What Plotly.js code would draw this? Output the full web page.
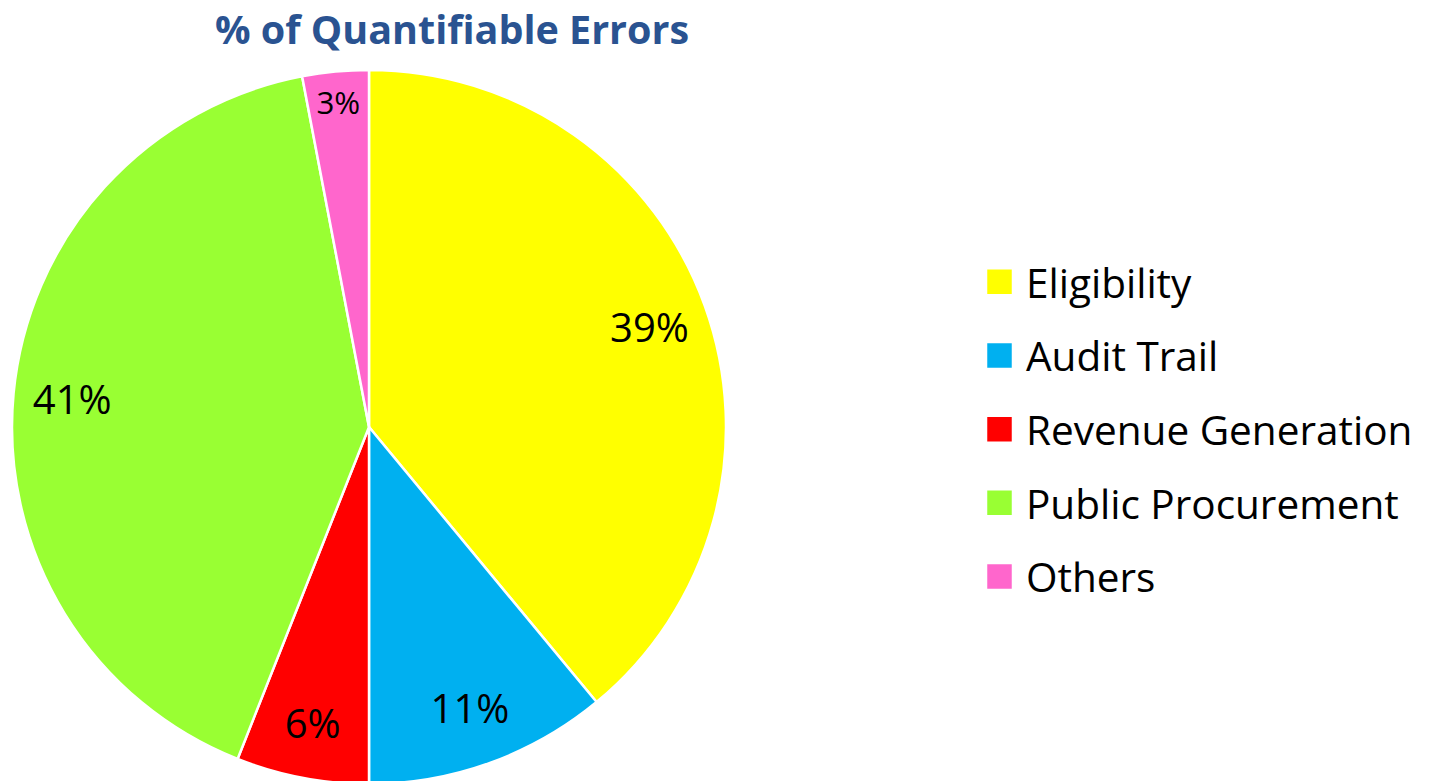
<!DOCTYPE html>
<html>
<head>
<meta charset="utf-8">
<script src="https://cdn.plot.ly/plotly-3.0.1.min.js"></script>
<style>
html,body{margin:0;padding:0;overflow:hidden;background:#fff;}
#chart{width:1435px;height:800px;}
</style>
</head>
<body>
<div id="chart"></div>
<script>
const categories = ["Eligibility", "Audit Trail", "Revenue Generation", "Public Procurement", "Others"];
const percentages = [39, 11, 6, 41, 3];
const sliceColors = ["#FFFF00", "#00B0F0", "#FF0000", "#99FF33", "#FF66CC"];
const labelSizes = [40, 40, 40, 40, 40];
const chartTitle = "% of Quantifiable Errors";

const H = 800, W = 1435;
const dom = {x: [12 / W, 726 / W], y: [(H - 784) / H, (H - 70) / H]};

const pieTrace = {
  type: "pie",
  labels: categories,
  values: percentages,
  sort: false,
  direction: "clockwise",
  rotation: 0,
  marker: {colors: sliceColors, line: {color: "#FFFFFF", width: 2.5}},
  textinfo: "none",
  domain: dom,
  hoverinfo: "skip"
};

const labelRing = {
  type: "pie",
  labels: categories,
  values: percentages,
  sort: false,
  direction: "clockwise",
  rotation: 0,
  hole: 0.67,
  marker: {colors: sliceColors.map(() => "rgba(0,0,0,0)"), line: {width: 0}},
  text: percentages.map(v => v + "%"),
  textinfo: "text",
  textposition: "inside",
  insidetextorientation: "horizontal",
  insidetextfont: {family: "'Open Sans', sans-serif", size: labelSizes, color: "#000000"},
  showlegend: false,
  domain: dom,
  hoverinfo: "skip"
};

const layout = {
  width: W, height: H,
  margin: {l: 0, r: 0, t: 0, b: 0},
  paper_bgcolor: "#FFFFFF",
  title: {
    text: "<b>" + chartTitle + "</b>",
    font: {family: "'Open Sans', sans-serif", size: 39.5, color: "#2A5391"},
    x: 452 / W, xanchor: "center", xref: "paper",
    y: (H - 30) / H, yanchor: "middle", yref: "container"
  },
  showlegend: true,
  legend: {
    x: 986 / W, xanchor: "left",
    y: (H - 249) / H, yanchor: "top",
    font: {family: "'Open Sans', sans-serif", size: 40.5, color: "#000000"},
    bgcolor: "rgba(0,0,0,0)",
    borderwidth: 0
  }
};

Plotly.newPlot("chart", [pieTrace, labelRing], layout, {staticPlot: true}).then(gd => {
  const sb = gd.querySelector(".legend .scrollbox");
  if (sb) sb.removeAttribute("clip-path");
  gd.querySelectorAll("clipPath[id^='legend'] rect").forEach(r => r.setAttribute("height", 1000));
  const items = gd.querySelectorAll(".legend .traces");
  const extra = 18;
  items.forEach((g, i) => {
    const t = g.getAttribute("transform") || "";
    const m = t.match(/translate\(\s*([-\d.]+)[ ,]+([-\d.]+)\s*\)/);
    if (m) {
      g.setAttribute("transform", "translate(" + m[1] + "," + (parseFloat(m[2]) + i * extra) + ")");
    }
    const p = g.querySelector(".legendpoints path");
    if (p) p.setAttribute("d", "M7,13.5H-20V-13.5H7Z");
  });
});
</script>
</body>
</html>
